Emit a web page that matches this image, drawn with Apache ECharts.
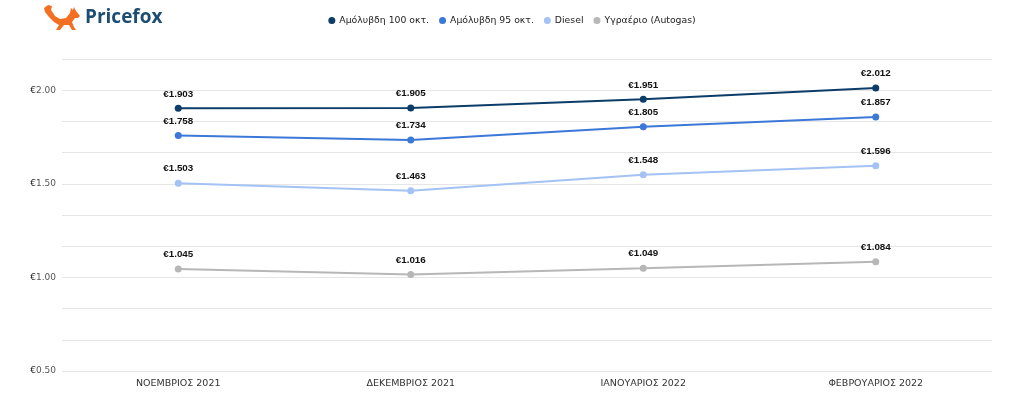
<!DOCTYPE html>
<html>
<head>
<meta charset="utf-8">
<script src="https://cdn.jsdelivr.net/npm/echarts@6/dist/echarts.min.js"></script>
<style>html,body{margin:0;padding:0;background:#fff}#c{width:1024px;height:406px}</style>
</head>
<body>
<div id="c"></div>
<script>
const categories = ['ΝΟΕΜΒΡΙΟΣ 2021', 'ΔΕΚΕΜΒΡΙΟΣ 2021', 'ΙΑΝΟΥΑΡΙΟΣ 2022', 'ΦΕΒΡΟΥΑΡΙΟΣ 2022'];
const seriesNames = ['Αμόλυβδη 100 οκτ.', 'Αμόλυβδη 95 οκτ.', 'Diesel', 'Υγραέριο (Autogas)'];
const unleaded100 = [1.903, 1.905, 1.951, 2.012];
const unleaded95 = [1.758, 1.734, 1.805, 1.857];
const diesel = [1.503, 1.463, 1.548, 1.596];
const autogas = [1.045, 1.016, 1.049, 1.084];
const yTickLabels = [0.5, 1.0, 1.5, 2.0];

const colors = ['#0b3d68', '#3c78d8', '#a4c2f4', '#b7b7b7'];
const dataSets = [unleaded100, unleaded95, diesel, autogas];
const font = '"DejaVu Sans", sans-serif';
const labelFont = '"Liberation Sans", Arial, sans-serif';

const chart = echarts.init(document.getElementById('c'));
chart.setOption({
  animation: false,
  color: colors,
  textStyle: { fontFamily: font },
  legend: {
    top: 11,
    left: 'center',
    itemWidth: 7, itemHeight: 7, itemGap: 10,
    icon: 'circle',
    textStyle: { fontSize: 9.3, color: '#222', fontFamily: font, padding: [0, 0, 0, -1] },
    data: seriesNames
  },
  grid: { left: 62, right: 32, top: 59, bottom: 35 },
  xAxis: {
    type: 'category',
    data: categories,
    boundaryGap: true,
    axisLine: { show: false },
    axisTick: { show: false },
    axisLabel: { fontSize: 9.5, color: '#333', margin: 8, fontFamily: font }
  },
  yAxis: {
    type: 'value',
    min: 0.5,
    max: 0.5 + 10 / 6,
    interval: 1 / 6,
    axisLine: { show: false },
    axisTick: { show: false },
    splitLine: { lineStyle: { color: '#e6e6e6', width: 1 } },
    axisLabel: {
      margin: 6,
      formatter: function (v) {
        const d = v * 2;
        if (Math.abs(d - Math.round(d)) < 1e-6) {
          const val = Math.round(d) / 2;
          if (yTickLabels.some(t => Math.abs(t - val) < 1e-9)) {
            return '{e|€}{n|' + val.toFixed(2) + '}';
          }
        }
        return '';
      },
      rich: {
        e: { fontSize: 9, color: '#222', fontFamily: font },
        n: { fontSize: 9, color: '#555', fontFamily: font }
      }
    }
  },
  series: dataSets.map((d, i) => ({
    name: seriesNames[i],
    type: 'line',
    data: d,
    symbol: 'circle',
    symbolSize: 7,
    lineStyle: { width: 2 },
    label: {
      show: true,
      position: 'top',
      distance: 6,
      fontSize: 9.8,
      fontWeight: 'bold',
      color: '#111',
      fontFamily: labelFont,
      formatter: p => '€' + p.value.toFixed(3)
    }
  })),
  graphic: [
    {
      type: 'polygon',
      shape: {
        points: [
          [44, 8], [48, 5], [52, 6], [51, 10], [55, 16], [60, 19], [66, 18], [70, 13], [71, 8], [73, 10], [74, 7], [76, 11], [80, 16], [78, 18], [75, 18], [72, 22], [74, 27], [76, 30], [72, 30], [69, 25], [64, 25], [60, 30], [56, 30], [59, 25], [54, 22], [49, 17], [45, 12]
        ]
      },
      style: { fill: '#f36f21' }
    },
    {
      type: 'text',
      left: 85, top: 8,
      style: { text: 'Pricefox', font: 'bold 19px "Open Sans", sans-serif', fill: '#1d4e72' }
    }
  ]
});
</script>
</body>
</html>
